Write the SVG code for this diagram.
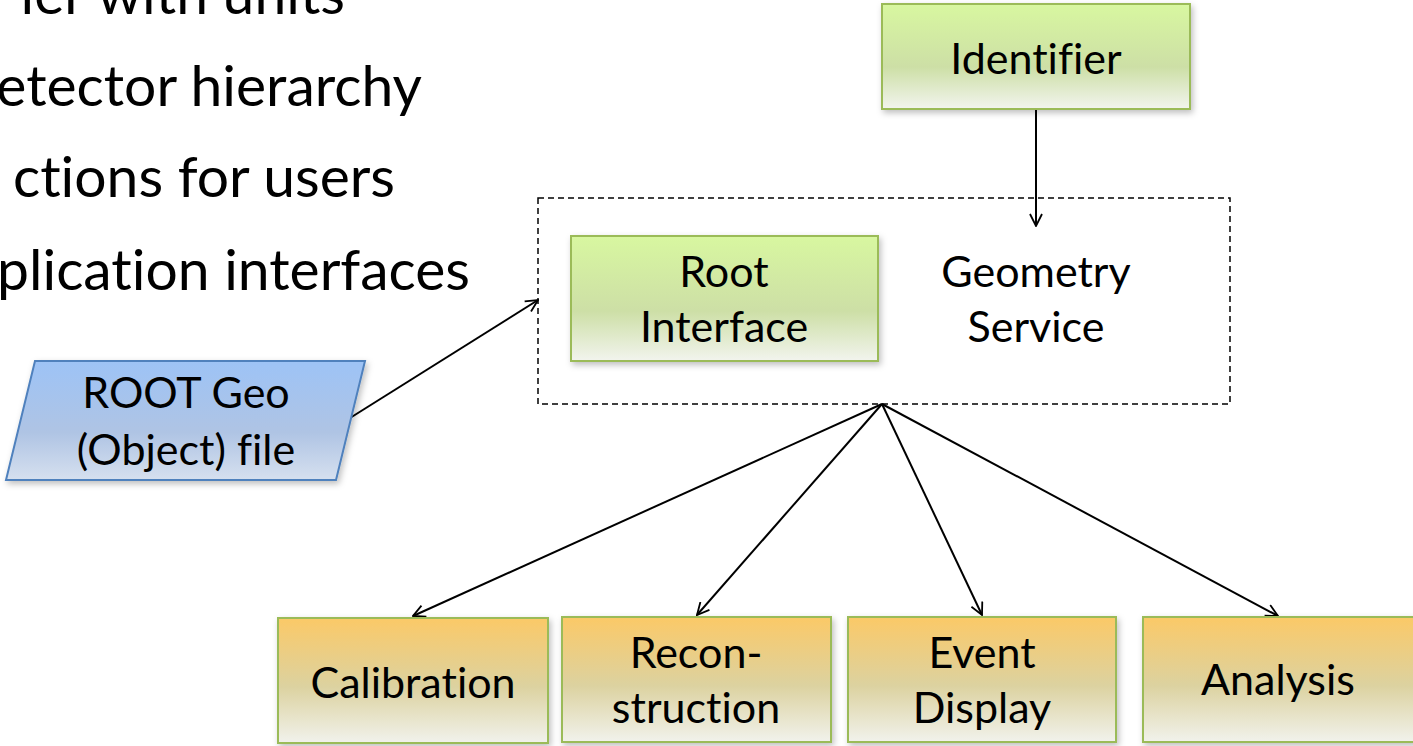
<svg xmlns="http://www.w3.org/2000/svg" width="1413" height="746" viewBox="0 0 1413 746">
<style>
text{font-variant-ligatures:none;font-feature-settings:"liga" 0,"clig" 0}
.t{font-family:Lato,"Open Sans","Liberation Sans",sans-serif;fill:#000;text-anchor:middle}
.n{font-size:43px}
.b{font-family:Lato,"Open Sans","Liberation Sans",sans-serif;font-size:57px;fill:#000;text-anchor:end}
.g{fill:url(#gg);stroke:#9bbb59;stroke-width:2;filter:url(#sh)}
.o{fill:url(#go);stroke:#9bbb59;stroke-width:2;filter:url(#sh)}
.c{fill:none;stroke:#000;stroke-width:2;marker-end:url(#ar)}
</style>
<defs>
<linearGradient id="gg" x1="0" y1="0" x2="0" y2="1"><stop offset="0" stop-color="#d8f7a0"/><stop offset="0.6" stop-color="#cddfa6"/><stop offset="1" stop-color="#f2f4ee"/></linearGradient>
<linearGradient id="go" x1="0" y1="0" x2="0" y2="1"><stop offset="0" stop-color="#fbc967"/><stop offset="0.55" stop-color="#dcd2a0"/><stop offset="1" stop-color="#f1f2ec"/></linearGradient>
<linearGradient id="gb" x1="0" y1="0" x2="0" y2="1"><stop offset="0" stop-color="#9dc3f6"/><stop offset="0.6" stop-color="#afc4e4"/><stop offset="1" stop-color="#d6e0ef"/></linearGradient>
<filter id="sh" x="-5%" y="-5%" width="112%" height="120%"><feDropShadow dx="2" dy="3" stdDeviation="3" flood-color="#000" flood-opacity="0.25"/></filter>
<marker id="ar" viewBox="0 0 14 14" refX="13" refY="7" markerWidth="14" markerHeight="14" markerUnits="userSpaceOnUse" orient="auto"><path d="M1,1 L13,7 L1,13" fill="none" stroke="#000" stroke-width="1.8"/></marker>
</defs>
<g id="bullets">
<text class="b" x="345" y="14">ier with units</text>
<text class="b" x="422" y="106">etector hierarchy</text>
<text class="b" x="395" y="197">ctions for users</text>
<text class="b" x="470" y="290">plication interfaces</text>
</g>
<g id="connectors">
<line class="c" x1="1036" y1="109" x2="1036" y2="226"/>
<line class="c" x1="350" y1="418" x2="538" y2="300"/>
<line class="c" x1="882" y1="404" x2="413" y2="616"/>
<line class="c" x1="882" y1="404" x2="697" y2="615"/>
<line class="c" x1="882" y1="404" x2="982" y2="615"/>
<line class="c" x1="882" y1="404" x2="1278" y2="616"/>
</g>
<g id="geometry-service">
<rect x="538" y="198" width="692" height="206" fill="none" stroke="#000" stroke-width="1.5" stroke-dasharray="6,4"/>
<text class="t n" x="1036" y="287">Geometry</text>
<text class="t n" x="1036" y="342">Service</text>
</g>
<g id="identifier">
<rect class="g" x="882" y="4" width="308" height="105"/>
<text class="t n" x="1036" y="74">Identifier</text>
</g>
<g id="root-interface">
<rect class="g" x="571" y="236" width="307" height="125"/>
<text class="t n" x="724" y="287">Root</text>
<text class="t n" x="724" y="342">Interface</text>
</g>
<g id="root-geo-file">
<polygon points="35,361 365,361 336,480 6,480" fill="url(#gb)" stroke="#4f81bd" stroke-width="2" filter="url(#sh)"/>
<text class="t n" x="186" y="408">ROOT Geo</text>
<text class="t n" x="186" y="465">(Object) file</text>
</g>
<g id="calibration">
<rect class="o" x="278" y="618" width="270" height="125"/>
<text class="t n" x="413" y="698">Calibration</text>
</g>
<g id="reconstruction">
<rect class="o" x="562" y="617" width="269" height="125"/>
<text class="t n" x="696" y="668">Recon-</text>
<text class="t n" x="696" y="723">struction</text>
</g>
<g id="event-display">
<rect class="o" x="848" y="617" width="268" height="125"/>
<text class="t n" x="982" y="668">Event</text>
<text class="t n" x="982" y="723">Display</text>
</g>
<g id="analysis">
<rect class="o" x="1143" y="617" width="272" height="125"/>
<text class="t n" x="1278" y="695">Analysis</text>
</g>
</svg>
